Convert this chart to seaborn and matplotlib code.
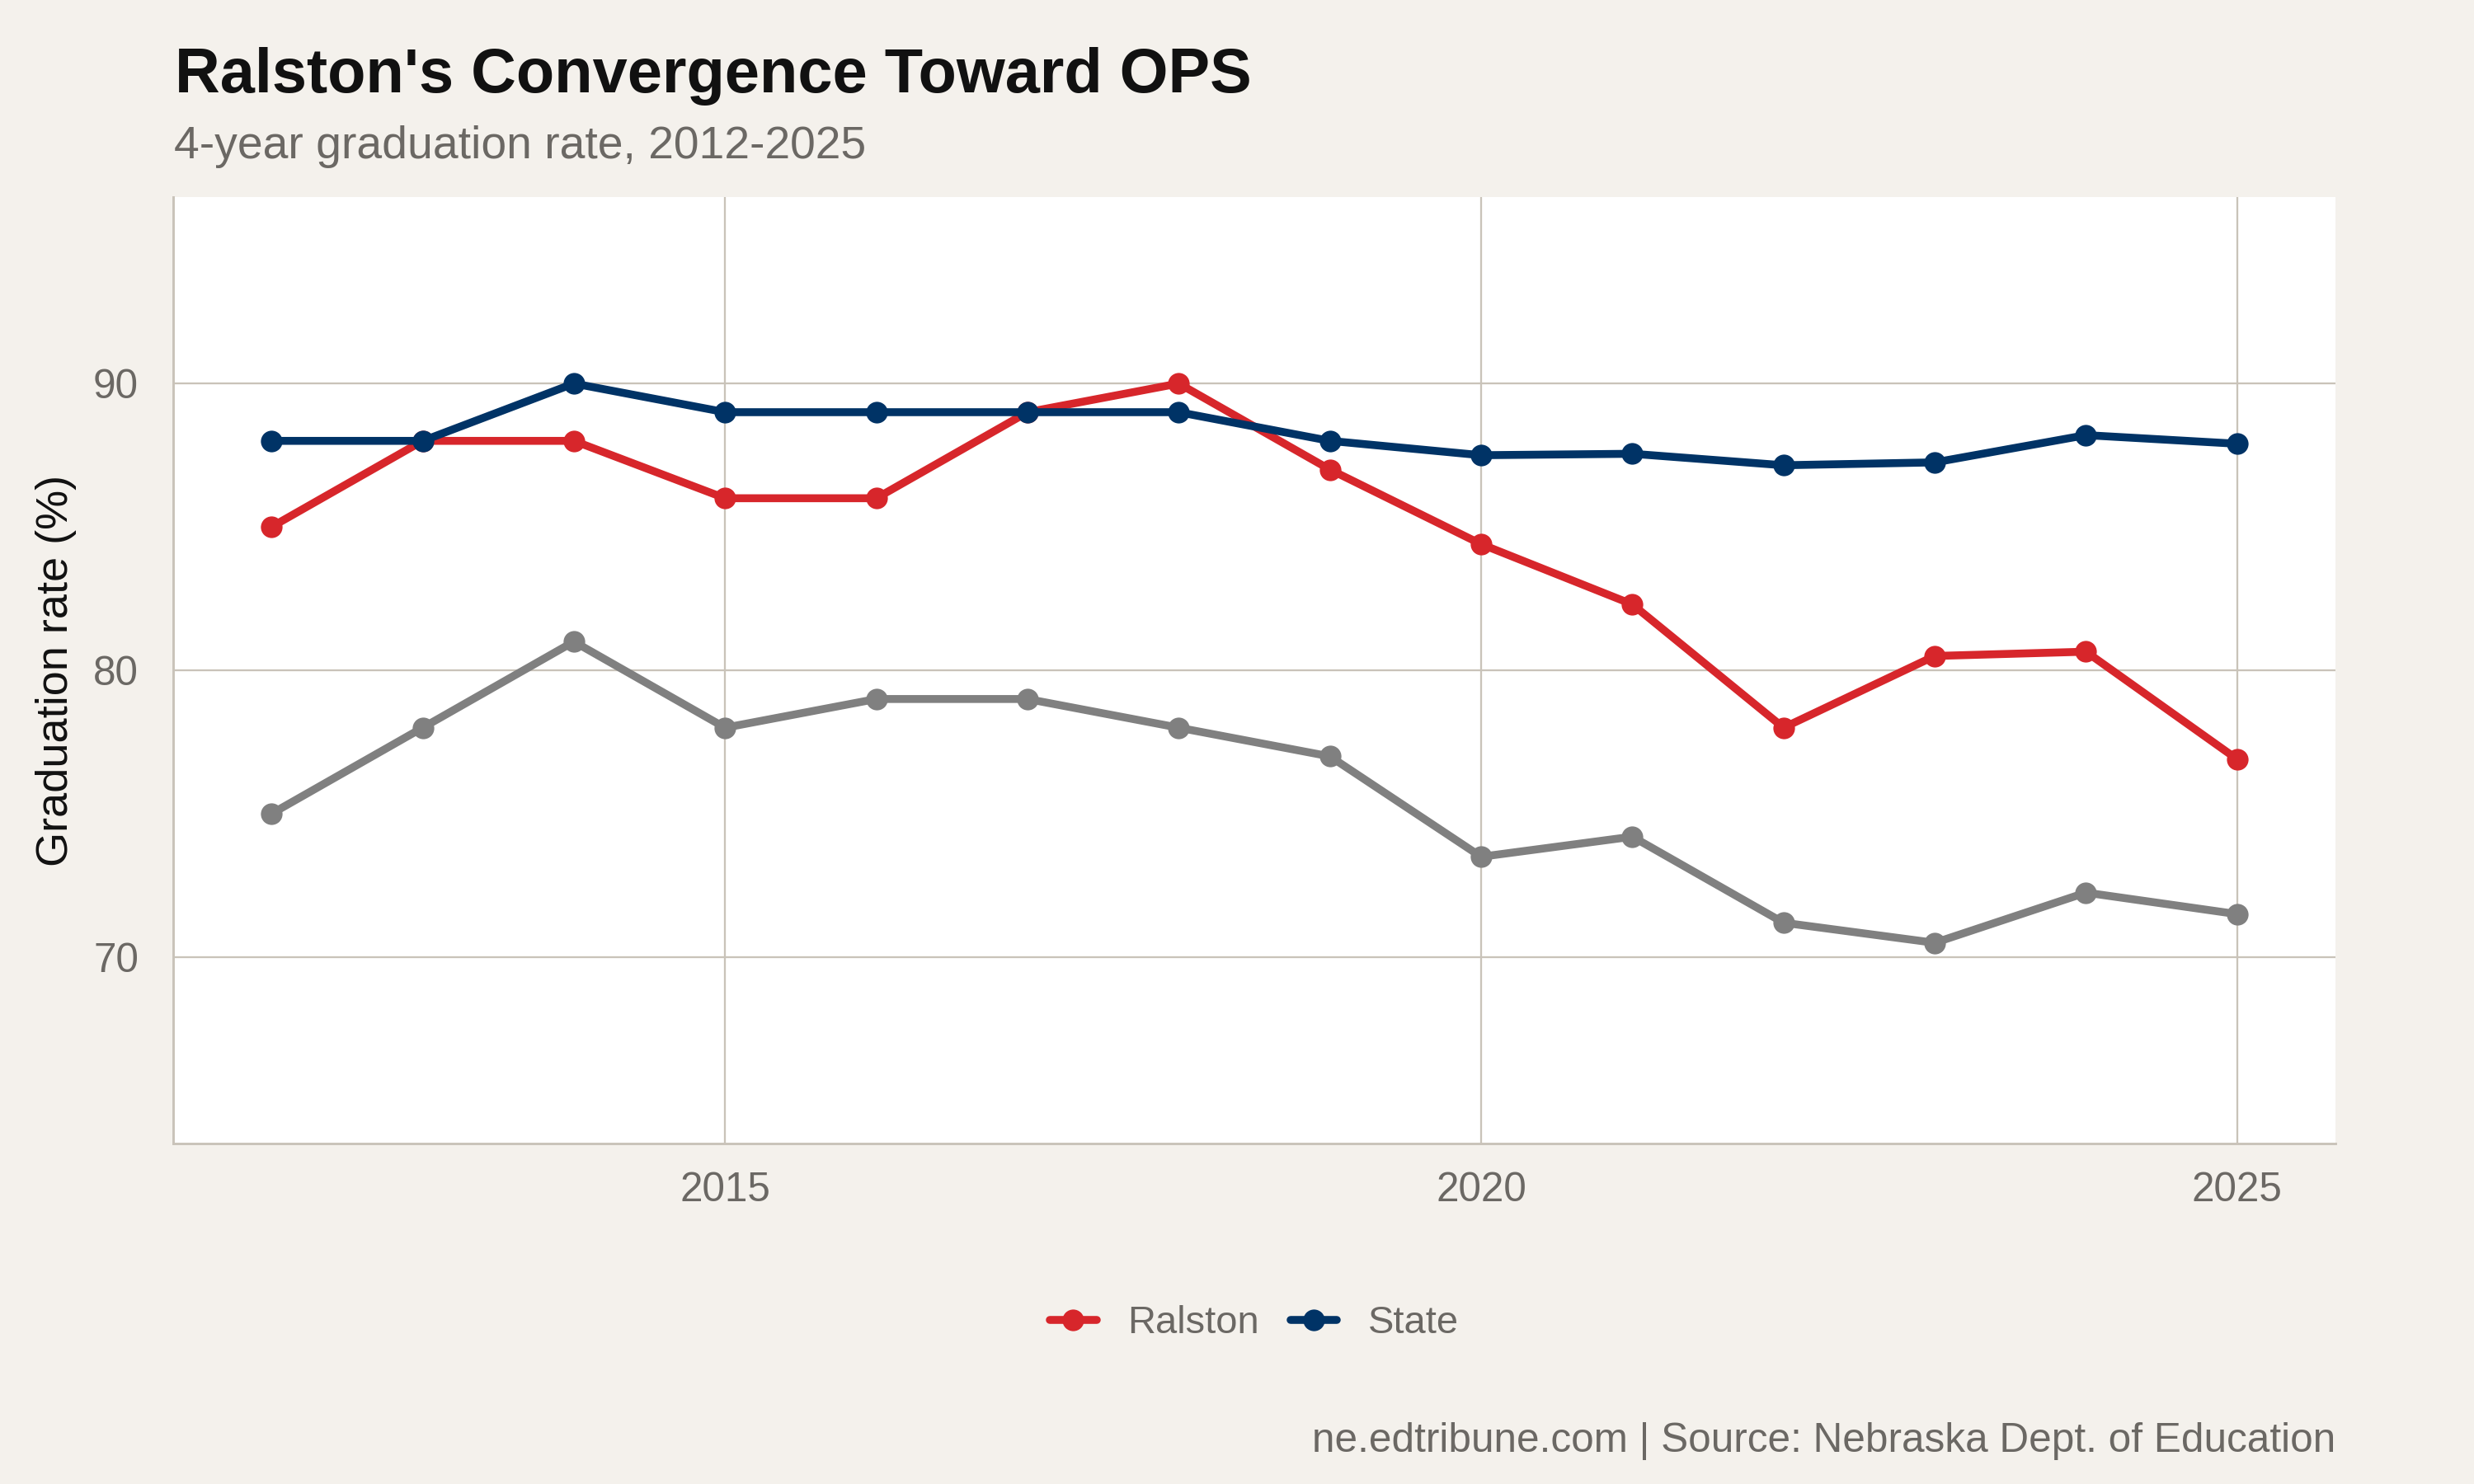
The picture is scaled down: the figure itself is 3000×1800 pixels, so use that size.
import numpy as np
import pandas as pd
import seaborn as sns
import matplotlib
matplotlib.use("Agg")
import matplotlib.pyplot as plt
from matplotlib.lines import Line2D

# ---- data ----
years = list(range(2012, 2026))
ralston = [85.0, 88.0, 88.0, 86.0, 86.0, 89.0, 90.0, 87.0, 84.4, 82.3, 78.0, 80.5, 80.65, 76.9]
state = [88.0, 88.0, 90.0, 89.0, 89.0, 89.0, 89.0, 88.0, 87.5, 87.55, 87.15, 87.25, 88.2, 87.9]
ops = [75.0, 78.0, 81.0, 78.0, 79.0, 79.0, 78.0, 77.0, 73.5, 74.2, 71.2, 70.5, 72.25, 71.5]
groups = ["OPS", "Ralston", "State"]
legend_groups = ["Ralston", "State"]
x_ticks = [2015, 2020, 2025]
y_ticks = [70, 80, 90]

title = "Ralston's Convergence Toward OPS"
subtitle = "4-year graduation rate, 2012-2025"
ylabel = "Graduation rate (%)"
caption = "ne.edtribune.com | Source: Nebraska Dept. of Education"

df = pd.DataFrame({
    "Year": years * 3,
    "Rate": ops + ralston + state,
    "Group": ["OPS"] * len(years) + ["Ralston"] * len(years) + ["State"] * len(years),
})

# ---- style ----
BG = "#F4F1EC"
GRID = "#C9C3B9"
TXT = "#6B6864"
palette = {"OPS": "#808080", "Ralston": "#D7262B", "State": "#003366"}
LW = 2.3
MS = 6.3

sns.set_theme(style="white")
plt.rcParams["font.family"] = ["Liberation Sans", "DejaVu Sans"]

fig = plt.figure(figsize=(10, 6), dpi=300, facecolor=BG)
ax = fig.add_axes([0.07, 0.2294, 0.874, 0.6378])
ax.set_facecolor("white")

sns.lineplot(data=df, x="Year", y="Rate", hue="Group", hue_order=groups,
             palette=palette, marker="o", markersize=MS, markeredgewidth=0,
             linewidth=LW, legend=False, ax=ax, zorder=3)

ax.set_xlim(2011.35, 2025.65)
ax.set_ylim(63.5, 96.5)
ax.set_xticks(x_ticks)
ax.set_yticks(y_ticks)
ax.grid(True, color=GRID, linewidth=0.55, zorder=0)
ax.set_axisbelow(True)
for s in ["top", "right"]:
    ax.spines[s].set_visible(False)
for s in ["left", "bottom"]:
    ax.spines[s].set_color(GRID)
    ax.spines[s].set_linewidth(0.7)
ax.tick_params(axis="x", length=3.1, width=0.55, color=GRID, pad=5,
               labelsize=11.9, labelcolor=TXT)
ax.tick_params(axis="y", length=3.1, width=0.55, color=GRID, pad=7,
               labelsize=11.9, labelcolor=TXT)
ax.set_xlabel("")
ax.set_ylabel("")

fig.text(68 / 3000, 1 - 813 / 1800, ylabel, rotation=90, ha="center", va="center",
         fontsize=13, color="#111111")
fig.text(212 / 3000, 1 - 112 / 1800, title, ha="left", va="baseline",
         fontsize=18.2, fontweight="bold", color="#111111")
fig.text(211 / 3000, 1 - 192 / 1800, subtitle, ha="left", va="baseline",
         fontsize=13.25, color=TXT)
fig.text(2832 / 3000, 1 - 1761 / 1800, caption, ha="right", va="baseline",
         fontsize=11.9, color=TXT)

handles = [Line2D([0], [0], color=palette[g], linewidth=LW, marker="o",
                  markersize=MS, markeredgewidth=0) for g in legend_groups]
fig.legend(handles, legend_groups, loc="center",
           bbox_to_anchor=(1521 / 3000, 1 - 1605 / 1800), ncol=2, frameon=False,
           fontsize=11.3, labelcolor=TXT, handlelength=1.2, handletextpad=0.8,
           columnspacing=0.8)

fig.savefig("out.png", dpi=300, facecolor=BG)
